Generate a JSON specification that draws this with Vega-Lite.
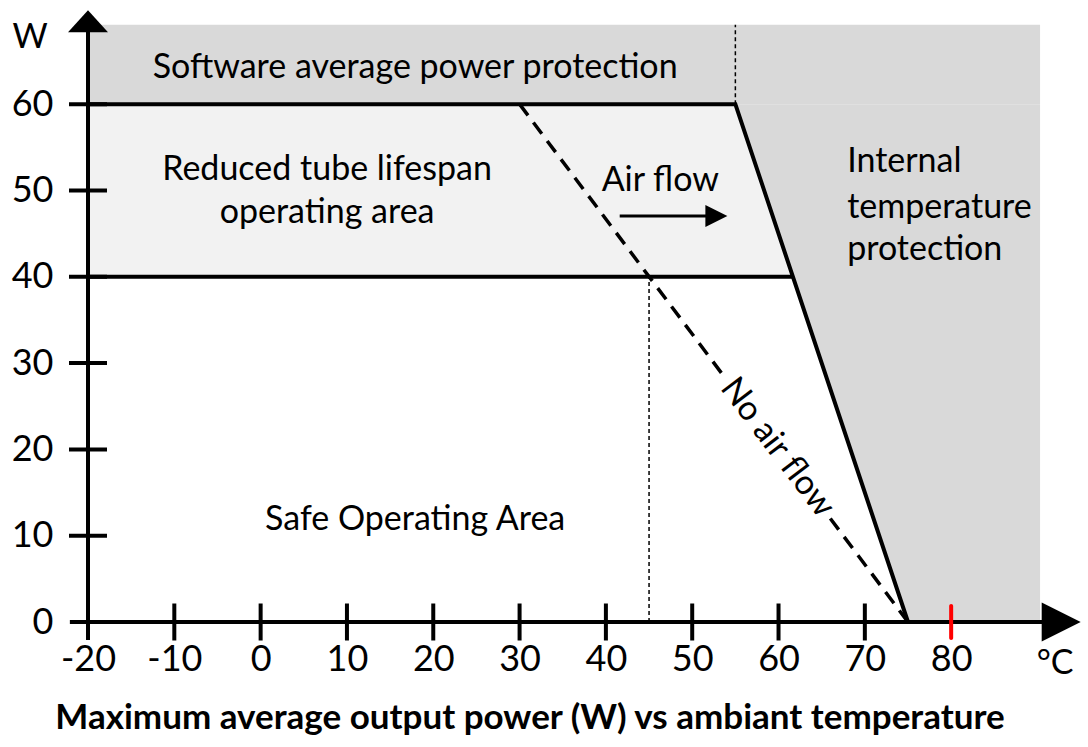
{
  "$schema": "https://vega.github.io/schema/vega-lite/v6.json",
  "width": 984,
  "height": 614.5,
  "autosize": {"type": "none"},
  "padding": {"left": 88, "top": 7.5, "right": 16, "bottom": 125},
  "background": "white",
  "config": {"view": {"stroke": null}, "font": "Lato"},
  "title": {"text": "Maximum average output power (W) vs ambiant temperature", "orient": "bottom", "anchor": "middle", "dx": -50, "offset": 20, "fontSize": 35, "font": "Lato", "fontWeight": "bold", "color": "black"},
  "datasets": {
    "band": [{"x": -20, "x2": 90.3, "y": 60, "y2": 69.2}],
    "hot": [{"y": 0, "x": 75, "x2": 90.3}, {"y": 60, "x": 55, "x2": 90.3}],
    "reduced": [{"y": 40, "x": -20, "x2": 61.67}, {"y": 60, "x": -20, "x2": 55}],
    "dotted": [{"x": 45, "y": 0, "y2": 40}, {"x": 55, "y": 60, "y2": 69.2}],
    "limits": [
      {"seg": "a", "o": 1, "x": -20, "y": 60},
      {"seg": "a", "o": 2, "x": 55, "y": 60},
      {"seg": "a", "o": 3, "x": 75, "y": 0},
      {"seg": "b", "o": 1, "x": -20, "y": 40},
      {"seg": "b", "o": 2, "x": 61.67, "y": 40}
    ],
    "noair": [{"x": 30, "y": 60, "x2": 53.8, "y2": 28.3}, {"x": 66, "y": 12, "x2": 75, "y2": 0}],
    "axes": [{"x": -20, "x2": -20, "y": -2.1, "y2": 68.5}, {"x": -22.1, "x2": 91, "y": 0, "y2": 0}],
    "xticks": [{"x": -10, "y": 0}, {"x": 0, "y": 0}, {"x": 10, "y": 0}, {"x": 20, "y": 0}, {"x": 30, "y": 0}, {"x": 40, "y": 0}, {"x": 50, "y": 0}, {"x": 60, "y": 0}, {"x": 70, "y": 0}],
    "redtick": [{"x": 80, "y": 0}],
    "yticks": [{"x": -20, "y": 10}, {"x": -20, "y": 20}, {"x": -20, "y": 30}, {"x": -20, "y": 40}, {"x": -20, "y": 50}, {"x": -20, "y": 60}],
    "uparrow": [{"x": -20, "y": 69.6}],
    "rightarrow": [{"x": 92.75, "y": 0}],
    "flowshaft": [{"x": 41.6, "x2": 51.8, "y": 47.05, "y2": 47.05}],
    "flowhead": [{"x": 52.8, "y": 47.05}],
    "labelsC": [
      {"x": 17.9, "y": 64.2, "t": "Software average power protection"},
      {"x": 7.7, "y": 52.4, "t": "Reduced tube lifespan"},
      {"x": 7.7, "y": 47.4, "t": "operating area"},
      {"x": 46.3, "y": 51.1, "t": "Air flow"},
      {"x": 17.9, "y": 11.8, "t": "Safe Operating Area"},
      {"x": -26.7, "y": 67.7, "t": "W"},
      {"x": 92.05, "y": -4.9, "t": "°C"}
    ],
    "labelsL": [
      {"x": 67.95, "y": 53.3, "t": "Internal"},
      {"x": 67.95, "y": 48.0, "t": "temperature"},
      {"x": 67.95, "y": 43.1, "t": "protection"}
    ],
    "labelRot": [{"x": 59.85, "y": 20.2, "t": "No air flow"}]
  },
  "encoding": {
    "x": {"field": "x", "type": "quantitative", "scale": {"domain": [-20, 94], "nice": false, "zero": false},
      "axis": {"title": null, "values": [-20, -10, 0, 10, 20, 30, 40, 50, 60, 70, 80], "labelExpr": "datum.value + ''", "domain": false, "ticks": false, "grid": false, "labelFontSize": 36, "labelFont": "Lato", "labelColor": "black", "labelPadding": 20, "labelDx": -3, "labelFlush": false}},
    "y": {"field": "y", "type": "quantitative", "scale": {"domain": [0, 71.2], "nice": false, "zero": false},
      "axis": {"title": null, "values": [0, 10, 20, 30, 40, 50, 60], "labelExpr": "datum.value + ''", "domain": false, "ticks": false, "grid": false, "labelFontSize": 36, "labelFont": "Lato", "labelColor": "black", "labelPadding": 35, "labelFlush": false}}
  },
  "layer": [
    {"data": {"name": "band"}, "mark": {"type": "rect", "color": "#d9d9d9"}, "encoding": {"x2": {"field": "x2"}, "y2": {"field": "y2"}}},
    {"data": {"name": "hot"}, "mark": {"type": "area", "orient": "horizontal", "color": "#d9d9d9"}, "encoding": {"x2": {"field": "x2"}}},
    {"data": {"name": "reduced"}, "mark": {"type": "area", "orient": "horizontal", "color": "#f2f2f2"}, "encoding": {"x2": {"field": "x2"}}},
    {"data": {"name": "dotted"}, "mark": {"type": "rule", "color": "black", "strokeWidth": 1.5, "strokeDash": [4, 3]}, "encoding": {"y2": {"field": "y2"}}},
    {"data": {"name": "limits"}, "mark": {"type": "line", "color": "black", "strokeWidth": 4, "strokeJoin": "miter"}, "encoding": {"detail": {"field": "seg"}, "order": {"field": "o"}}},
    {"data": {"name": "noair"}, "mark": {"type": "rule", "color": "black", "strokeWidth": 3.5, "strokeDash": [14, 9]}, "encoding": {"x2": {"field": "x2"}, "y2": {"field": "y2"}}},
    {"data": {"name": "axes"}, "mark": {"type": "rule", "color": "black", "strokeWidth": 4}, "encoding": {"x2": {"field": "x2"}, "y2": {"field": "y2"}}},
    {"data": {"name": "xticks"}, "mark": {"type": "tick", "orient": "vertical", "color": "black", "size": 37, "thickness": 4, "opacity": 1}},
    {"data": {"name": "redtick"}, "mark": {"type": "tick", "orient": "vertical", "color": "#ff0000", "size": 36, "thickness": 4, "opacity": 1, "cornerRadius": 2}},
    {"data": {"name": "yticks"}, "mark": {"type": "tick", "orient": "horizontal", "color": "black", "size": 38, "thickness": 4, "opacity": 1}},
    {"data": {"name": "uparrow"}, "mark": {"type": "point", "shape": "M0,-0.55L1,0.55L-1,0.55Z", "size": 1600, "filled": true, "color": "black", "opacity": 1}},
    {"data": {"name": "rightarrow"}, "mark": {"type": "point", "shape": "M1,0L-1,-1L-1,1Z", "size": 1521, "filled": true, "color": "black", "opacity": 1}},
    {"data": {"name": "flowshaft"}, "mark": {"type": "rule", "color": "black", "strokeWidth": 3}, "encoding": {"x2": {"field": "x2"}, "y2": {"field": "y2"}}},
    {"data": {"name": "flowhead"}, "mark": {"type": "point", "shape": "M1,0L-1,-1L-1,1Z", "size": 484, "filled": true, "color": "black", "opacity": 1}},
    {"data": {"name": "labelsC"}, "mark": {"type": "text", "align": "center", "baseline": "middle", "fontSize": 34, "font": "Lato", "color": "black"}, "encoding": {"text": {"field": "t"}}},
    {"data": {"name": "labelsL"}, "mark": {"type": "text", "align": "left", "baseline": "middle", "fontSize": 34, "font": "Lato", "color": "black"}, "encoding": {"text": {"field": "t"}}},
    {"data": {"name": "labelRot"}, "mark": {"type": "text", "align": "center", "baseline": "middle", "fontSize": 34, "font": "Lato", "color": "black", "angle": 52.7}, "encoding": {"text": {"field": "t"}}}
  ]
}
